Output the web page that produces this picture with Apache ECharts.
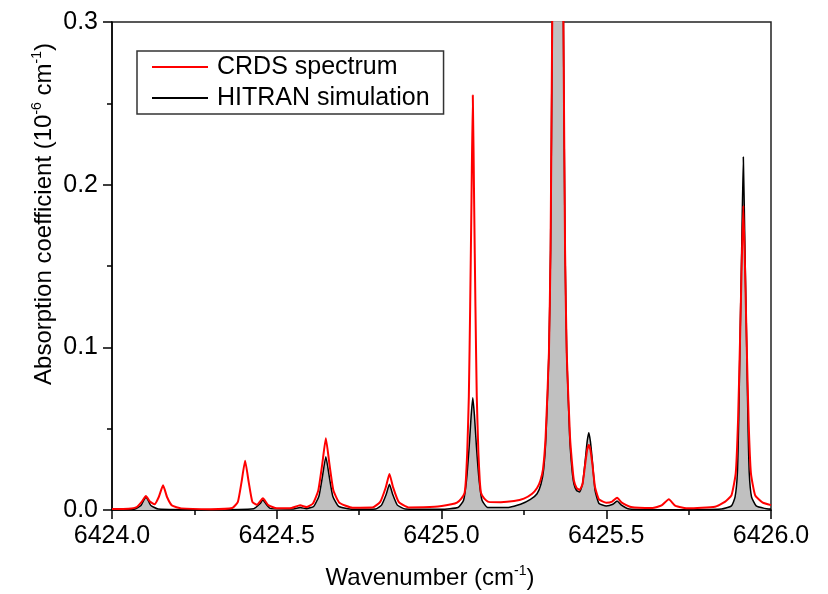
<!DOCTYPE html>
<html lang="en">
<head>
<meta charset="UTF-8">
<title>CRDS vs HITRAN</title>
<script src="https://cdn.jsdelivr.net/npm/echarts@6/dist/echarts.min.js"></script>
</head>
<body style="margin:0">
<div id="main" style="width:828px;height:594px"></div>
<script>
// wavenumber (cm-1), absorption coefficient (1e-6 cm-1)
const crdsPoints = [
  [6424.000, 0.0006], [6424.050, 0.0008], [6424.075, 0.0018], [6424.090, 0.0050],
  [6424.103, 0.0086], [6424.115, 0.0052], [6424.129, 0.0035], [6424.142, 0.0080],
  [6424.155, 0.0152], [6424.167, 0.0080], [6424.182, 0.0028], [6424.210, 0.0010],
  [6424.300, 0.0005], [6424.365, 0.0012], [6424.382, 0.0050], [6424.393, 0.0170],
  [6424.404, 0.0303], [6424.415, 0.0170], [6424.426, 0.0050], [6424.440, 0.0032],
  [6424.458, 0.0072], [6424.474, 0.0030], [6424.500, 0.0010], [6424.545, 0.0012],
  [6424.571, 0.0029], [6424.590, 0.0018], [6424.610, 0.0040], [6424.626, 0.0120],
  [6424.638, 0.0280], [6424.649, 0.0441], [6424.660, 0.0280], [6424.672, 0.0120],
  [6424.690, 0.0045], [6424.730, 0.0014], [6424.790, 0.0015], [6424.814, 0.0050],
  [6424.831, 0.0140], [6424.842, 0.0221], [6424.853, 0.0140], [6424.870, 0.0050],
  [6424.900, 0.0016], [6424.980, 0.0020], [6425.030, 0.0035], [6425.047, 0.0045],
  [6425.060, 0.0070], [6425.070, 0.0105], [6425.074, 0.0185], [6425.078, 0.0350],
  [6425.083, 0.0700], [6425.087, 0.1250], [6425.091, 0.1900], [6425.095, 0.2550],
  [6425.099, 0.1900], [6425.103, 0.1250], [6425.107, 0.0700], [6425.112, 0.0350],
  [6425.116, 0.0185], [6425.120, 0.0105], [6425.130, 0.0070], [6425.143, 0.0050],
  [6425.180, 0.0048], [6425.220, 0.0055], [6425.250, 0.0070], [6425.275, 0.0100],
  [6425.290, 0.0135], [6425.300, 0.0180], [6425.308, 0.0250], [6425.316, 0.0450],
  [6425.326, 0.0965], [6425.331, 0.1600], [6425.336, 0.3000], [6425.344, 0.5500],
  [6425.353, 0.6500], [6425.362, 0.5500], [6425.370, 0.3000], [6425.375, 0.1600],
  [6425.380, 0.0965], [6425.390, 0.0450], [6425.397, 0.0270], [6425.402, 0.0180],
  [6425.410, 0.0135], [6425.419, 0.0123], [6425.428, 0.0160], [6425.436, 0.0280],
  [6425.442, 0.0370], [6425.447, 0.0400], [6425.452, 0.0370], [6425.458, 0.0280],
  [6425.466, 0.0140], [6425.478, 0.0065], [6425.500, 0.0045], [6425.518, 0.0052],
  [6425.533, 0.0076], [6425.547, 0.0045], [6425.575, 0.0018], [6425.640, 0.0012],
  [6425.668, 0.0028], [6425.690, 0.0066], [6425.710, 0.0025], [6425.750, 0.0010],
  [6425.830, 0.0020], [6425.860, 0.0050], [6425.880, 0.0090], [6425.893, 0.0227],
  [6425.900, 0.0550], [6425.906, 0.1040], [6425.911, 0.1500], [6425.916, 0.1870],
  [6425.921, 0.1500], [6425.926, 0.1040], [6425.932, 0.0550], [6425.939, 0.0227],
  [6425.952, 0.0090], [6425.975, 0.0045], [6426.000, 0.0030]
];

const hitranPoints = [
  [6424.000, 0.0001], [6424.070, 0.0006], [6424.088, 0.0028], [6424.097, 0.0062],
  [6424.103, 0.0080], [6424.109, 0.0062], [6424.118, 0.0028], [6424.140, 0.0006],
  [6424.300, 0.0002], [6424.430, 0.0008], [6424.449, 0.0038], [6424.458, 0.0062],
  [6424.467, 0.0038], [6424.480, 0.0010], [6424.550, 0.0006], [6424.571, 0.0015],
  [6424.590, 0.0008], [6424.612, 0.0022], [6424.628, 0.0085], [6424.639, 0.0210],
  [6424.649, 0.0328], [6424.659, 0.0210], [6424.670, 0.0085], [6424.688, 0.0022],
  [6424.730, 0.0004], [6424.800, 0.0006], [6424.818, 0.0030], [6424.832, 0.0095],
  [6424.842, 0.0158], [6424.852, 0.0095], [6424.866, 0.0030], [6424.890, 0.0006],
  [6425.000, 0.0004], [6425.050, 0.0015], [6425.067, 0.0060], [6425.076, 0.0185],
  [6425.084, 0.0390], [6425.090, 0.0580], [6425.095, 0.0690], [6425.100, 0.0580],
  [6425.106, 0.0390], [6425.114, 0.0185], [6425.123, 0.0060], [6425.140, 0.0015],
  [6425.200, 0.0015], [6425.240, 0.0035], [6425.270, 0.0065], [6425.290, 0.0100],
  [6425.302, 0.0160], [6425.310, 0.0250], [6425.317, 0.0450], [6425.326, 0.0965],
  [6425.331, 0.1600], [6425.336, 0.3000], [6425.344, 0.6200], [6425.353, 0.7200],
  [6425.362, 0.6200], [6425.370, 0.3000], [6425.375, 0.1600], [6425.380, 0.0965],
  [6425.389, 0.0450], [6425.396, 0.0250], [6425.402, 0.0160], [6425.410, 0.0120],
  [6425.419, 0.0110], [6425.428, 0.0160], [6425.436, 0.0300], [6425.442, 0.0420],
  [6425.447, 0.0475], [6425.452, 0.0420], [6425.458, 0.0300], [6425.466, 0.0120],
  [6425.478, 0.0040], [6425.500, 0.0025], [6425.520, 0.0035], [6425.533, 0.0055],
  [6425.546, 0.0030], [6425.570, 0.0006], [6425.700, 0.0002], [6425.850, 0.0006],
  [6425.880, 0.0025], [6425.891, 0.0080], [6425.898, 0.0227], [6425.902, 0.0550],
  [6425.906, 0.1040], [6425.911, 0.1600], [6425.916, 0.2170], [6425.921, 0.1600],
  [6425.926, 0.1040], [6425.930, 0.0550], [6425.934, 0.0227], [6425.941, 0.0080],
  [6425.955, 0.0025], [6425.980, 0.0010], [6426.000, 0.0006]
];

const seriesNames = ['CRDS spectrum', 'HITRAN simulation'];
const xRange = [6424, 6426];
const yRange = [0, 0.3];

const font = 'Liberation Sans, Arial, sans-serif';
const supRich = {
  n: { fontSize: 24, fontFamily: font, color: '#000', lineHeight: 28, verticalAlign: 'bottom' },
  sup: { fontSize: 14, fontFamily: font, color: '#000', lineHeight: 28, verticalAlign: 'top', padding: [2, 0, 0, 0] }
};

const chart = echarts.init(document.getElementById('main'));

const option = {
  animation: false,
  backgroundColor: '#fff',
  grid: {
    left: 112, right: 57, top: 22, bottom: 84,
    show: true, borderColor: '#222', borderWidth: 1.5, backgroundColor: 'transparent'
  },
  legend: {
    left: 137, top: 51,
    orient: 'vertical',
    data: [
      { name: seriesNames[0], icon: 'rect' },
      { name: seriesNames[1], icon: 'rect' }
    ],
    itemWidth: 56, itemHeight: 2, itemGap: 5,
    padding: [3, 14, 3, 15],
    borderColor: '#333', borderWidth: 1.5,
    textStyle: { fontFamily: font, fontSize: 25, color: '#000', lineHeight: 26, padding: [0, 0, 0, 4] }
  },
  xAxis: {
    type: 'value',
    min: xRange[0], max: xRange[1], interval: 0.5,
    axisLine: { show: true, onZero: false, lineStyle: { color: '#000', width: 1.5 } },
    axisTick: { show: true, length: 9, lineStyle: { color: '#000', width: 1.5 } },
    minorTick: { show: true, splitNumber: 2, length: 5, lineStyle: { color: '#000', width: 1.5 } },
    splitLine: { show: false },
    axisLabel: { fontFamily: font, fontSize: 25, color: '#000', margin: 14, formatter: v => v.toFixed(1) }
  },
  yAxis: {
    type: 'value',
    min: yRange[0], max: yRange[1], interval: 0.1,
    axisLine: { show: true, lineStyle: { color: '#000', width: 1.5 } },
    axisTick: { show: true, length: 9, lineStyle: { color: '#000', width: 1.5 } },
    minorTick: { show: true, splitNumber: 2, length: 5, lineStyle: { color: '#000', width: 1.5 } },
    splitLine: { show: false },
    axisLabel: { fontFamily: font, fontSize: 25, color: '#000', margin: 14, formatter: v => v.toFixed(1) }
  },
  graphic: [
    {
      type: 'text', x: 42, y: 214, rotation: Math.PI / 2,
      style: {
        text: '{n|Absorption coefficient (10}{sup|-6}{n| cm}{sup|-1}{n|)}',
        rich: supRich, align: 'center', verticalAlign: 'middle'
      }
    },
    {
      type: 'text', x: 430, y: 576,
      style: {
        text: '{n|Wavenumber (cm}{sup|-1}{n|)}',
        rich: supRich, align: 'center', verticalAlign: 'middle'
      }
    }
  ],
  series: [
    {
      name: seriesNames[1],
      type: 'line',
      data: hitranPoints,
      symbol: 'none',
      smooth: 0.15,
      clip: true,
      z: 2,
      color: '#000',
      lineStyle: { color: '#000', width: 1.5 },
      areaStyle: { color: '#c0c0c0', opacity: 1 }
    },
    {
      name: seriesNames[0],
      type: 'line',
      data: crdsPoints,
      symbol: 'none',
      smooth: 0.15,
      clip: true,
      z: 3,
      color: '#ff0000',
      lineStyle: { color: '#ff0000', width: 2 }
    }
  ]
};

chart.setOption(option);
</script>
</body>
</html>
